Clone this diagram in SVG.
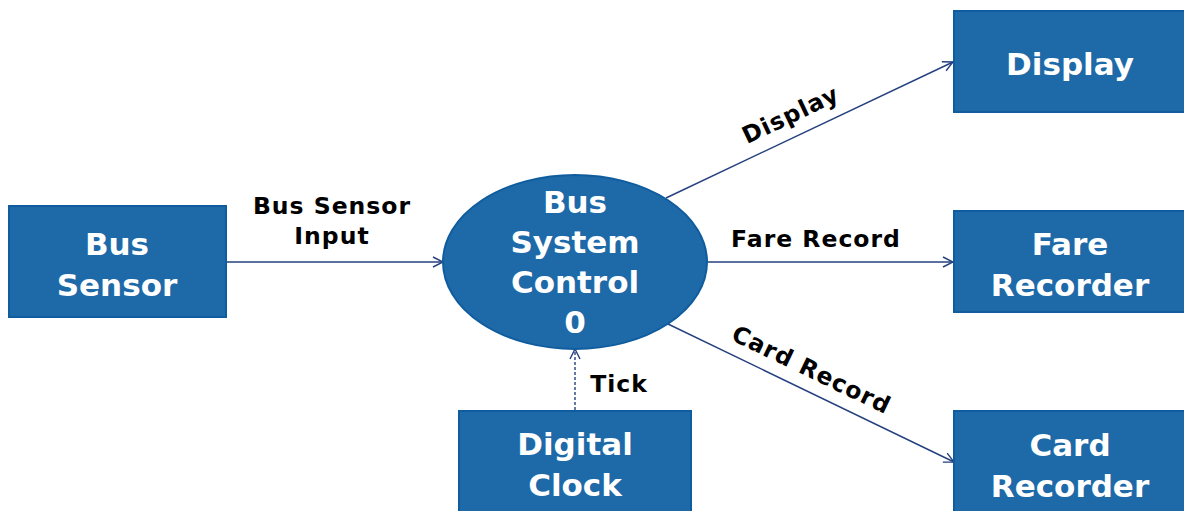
<svg xmlns="http://www.w3.org/2000/svg" width="1184" height="511" viewBox="0 0 1184 511">
<style>
.box{fill:#1e69a8;stroke:#0f5c9e;stroke-width:2}
.nt{font-family:"DejaVu Sans",sans-serif;font-weight:bold;font-size:31px;fill:#fff;text-anchor:middle}
.lb{font-family:"DejaVu Sans",sans-serif;font-weight:bold;font-size:23.5px;fill:#000;text-anchor:middle;letter-spacing:1px}
.ln{stroke:#24407e;stroke-width:1.4;fill:none}
</style>
<defs>
<marker id="ah" viewBox="0 0 12 12" refX="11" refY="6" markerWidth="12" markerHeight="12" markerUnits="userSpaceOnUse" orient="auto">
<path d="M1,1 L11,6 L1,11" fill="none" stroke="#24407e" stroke-width="1.4"/>
</marker>
</defs>
<g id="connectors">
<line class="ln" x1="227" y1="262" x2="443" y2="262" marker-end="url(#ah)"/>
<line class="ln" x1="666" y1="198" x2="953" y2="62" marker-end="url(#ah)"/>
<line class="ln" x1="708" y1="262" x2="953" y2="262" marker-end="url(#ah)"/>
<line class="ln" x1="668" y1="324" x2="954" y2="462" marker-end="url(#ah)"/>
<line class="ln" x1="575" y1="410" x2="575" y2="349" stroke-dasharray="3,2" marker-end="url(#ah)"/>
<text class="lb" x="332" y="214">Bus Sensor</text>
<text class="lb" x="332" y="244">Input</text>
<text class="lb" x="794" y="122" transform="rotate(-25.5 794 122)">Display</text>
<text class="lb" x="816" y="247">Fare Record</text>
<text class="lb" x="808" y="377" transform="rotate(25.7 808 377)">Card Record</text>
<text class="lb" x="619" y="392">Tick</text>
</g>
<g id="bus-sensor">
<rect class="box" x="9" y="206" width="217" height="111"/>
<text class="nt" x="117" y="255">Bus</text>
<text class="nt" x="117" y="296">Sensor</text>
</g>
<g id="bus-system-control">
<ellipse class="box" cx="575" cy="262" rx="132" ry="87"/>
<text class="nt" x="575" y="213">Bus</text>
<text class="nt" x="575" y="253">System</text>
<text class="nt" x="575" y="293">Control</text>
<text class="nt" x="575" y="333">0</text>
</g>
<g id="display">
<rect class="box" x="954" y="11" width="240" height="101"/>
<text class="nt" x="1070" y="75">Display</text>
</g>
<g id="fare-recorder">
<rect class="box" x="954" y="211" width="240" height="101"/>
<text class="nt" x="1070" y="255">Fare</text>
<text class="nt" x="1070" y="296">Recorder</text>
</g>
<g id="card-recorder">
<rect class="box" x="954" y="411" width="240" height="110"/>
<text class="nt" x="1070" y="456">Card</text>
<text class="nt" x="1070" y="497">Recorder</text>
</g>
<g id="digital-clock">
<rect class="box" x="459" y="411" width="232" height="110"/>
<text class="nt" x="575" y="455">Digital</text>
<text class="nt" x="575" y="496">Clock</text>
</g>
</svg>
